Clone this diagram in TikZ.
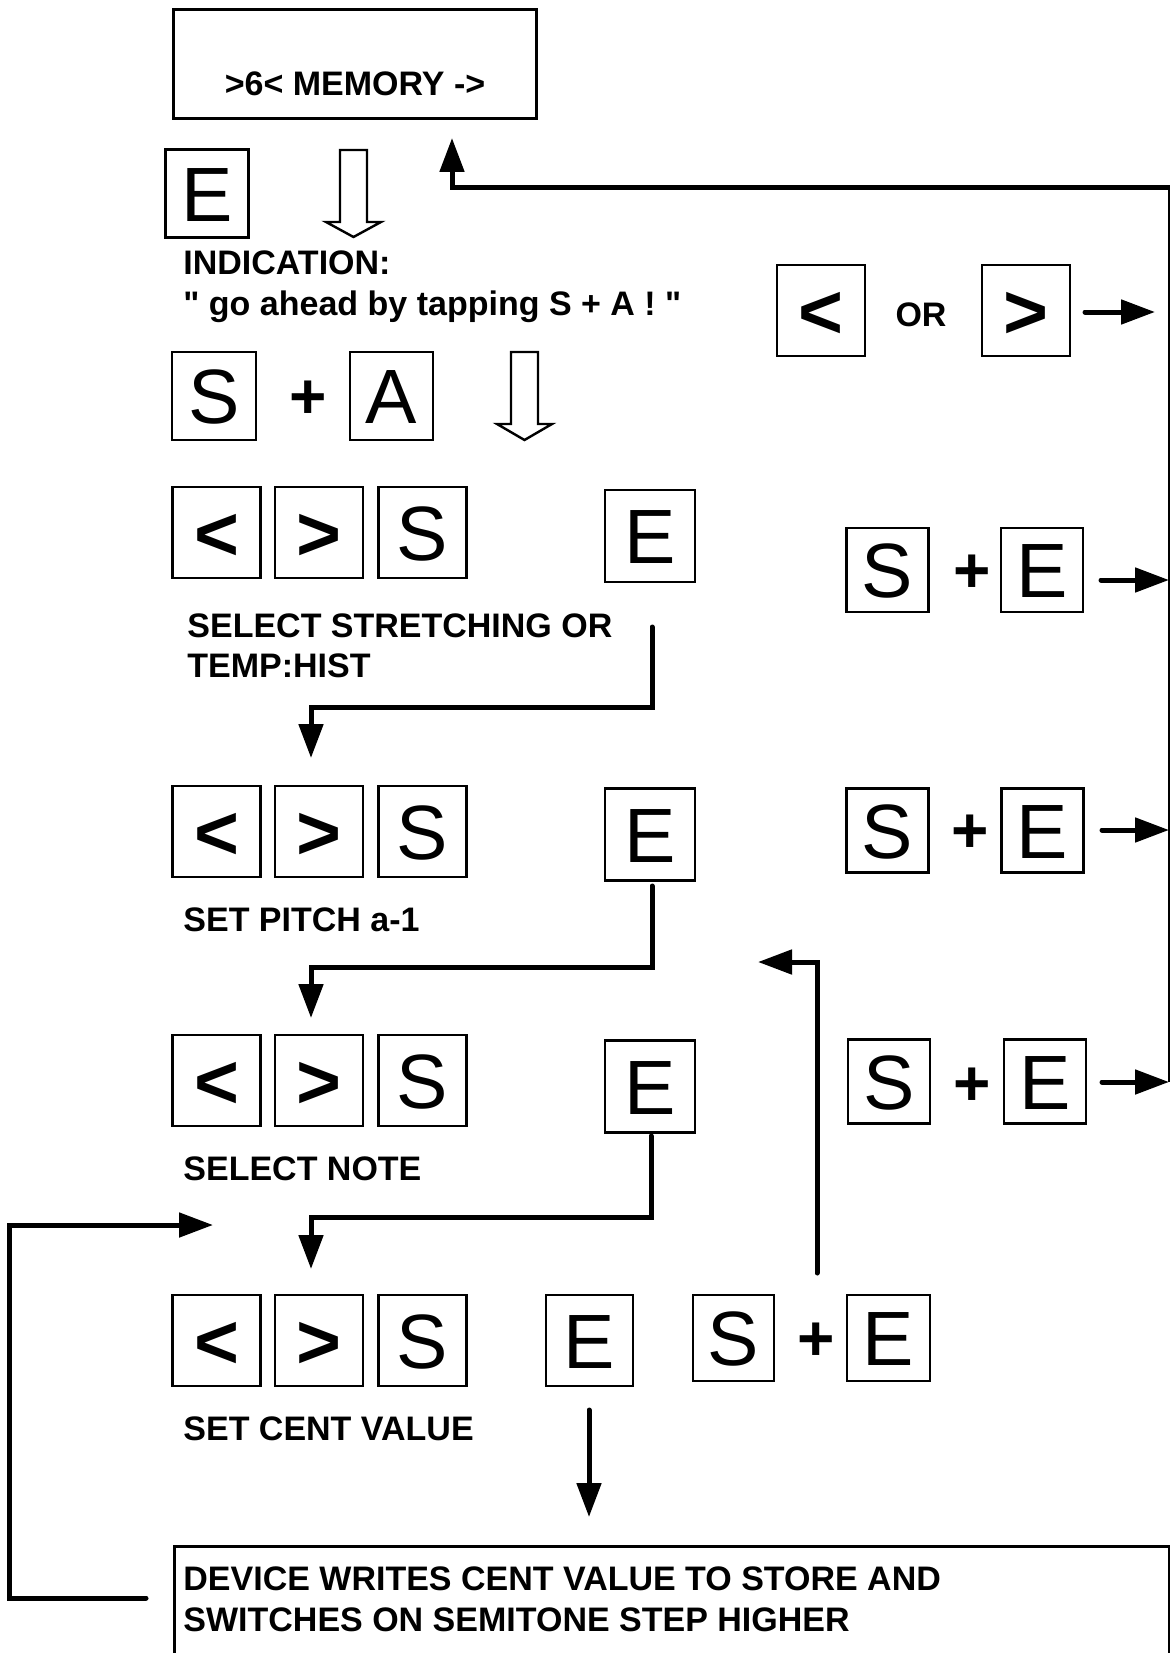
\documentclass[tikz,border=0pt]{standalone}
\usepackage{fontspec}
\setmainfont{Liberation Sans}
\newfontfamily\plainqfont{Liberation Sans}
\newcommand{\straightq}{{\plainqfont\bfseries"}}
\usetikzlibrary{arrows.meta}
\begin{document}
\begin{tikzpicture}[x=0.5pt,y=-0.5pt,
  keybox/.style={draw, line width=1.35pt, inner sep=0pt, minimum width=44pt, minimum height=45.5pt, text height=27.6pt, text depth=0pt, font=\fontsize{38.5pt}{40pt}\selectfont},
  chev/.style={keybox, font=\bfseries\fontsize{38.5pt}{40pt}\selectfont},
  smallkey/.style={keybox, minimum width=41.5pt, minimum height=44pt},
  rkey/.style={keybox, minimum width=41pt, minimum height=42pt},
  lbl/.style={anchor=base west, inner sep=0pt, font=\bfseries\fontsize{17pt}{20.5pt}\selectfont},
  plussign/.style={inner sep=0pt, font=\bfseries\fontsize{32pt}{34pt}\selectfont},
  conn/.style={line width=2.5pt, line cap=round, -{Triangle[length=17pt,width=12pt]}},
  hollow/.style={draw, line width=1.2pt, line join=miter},
  boxframe/.style={draw, line width=1.5pt, inner sep=0pt, anchor=north west},
]
\useasboundingbox (0,0) rectangle (1170,1653);

% top display
\node[boxframe, minimum width=181.5pt, minimum height=54.5pt, text height=43pt, text depth=11.5pt,
      font=\bfseries\fontsize{17pt}{20pt}\selectfont] (mem) at (172,8) {>6< MEMORY ->};

% E key and hollow arrow
\node[smallkey] (kE0) at (207,193.5) {E};
\draw[hollow] (340,150) -- (367,150) -- (367,222) -- (381,222) -- (353.5,237) -- (326,222) -- (340,222) -- cycle;

\node[lbl] (ind1) at (183,274) {INDICATION:};
\node[lbl] (ind2) at (183,315) {\straightq{} go ahead by tapping S + A ! \straightq};

% S + A
\node[smallkey, minimum width=42pt] (kS0) at (214,396) {S};
\node[plussign] (p0) at (308,400) {+};
\node[smallkey] (kA0) at (391.5,396) {A};
\draw[hollow] (511,352) -- (538,352) -- (538,424) -- (552,424) -- (524.5,440) -- (497,424) -- (511,424) -- cycle;

% row 1
\node[chev] (kL1) at (216.5,532.5) {<};
\node[chev] (kR1) at (319,532.5) {>};
\node[keybox] (kS1) at (422.5,532.5) {S};
\node[keybox, minimum width=45pt, minimum height=46pt] (kE1) at (650,536) {E};
\node[lbl] (t1a) at (187,637) {SELECT STRETCHING OR};
\node[lbl] (t1b) at (187,677) {TEMP:HIST};

% row 2
\node[chev] (kL2) at (216.5,831.5) {<};
\node[chev] (kR2) at (319,831.5) {>};
\node[keybox] (kS2) at (422.5,831.5) {S};
\node[keybox, minimum width=45pt, minimum height=46pt] (kE2) at (650,834.5) {E};
\node[lbl] (t2) at (183,931) {SET PITCH a-1};

% row 3
\node[chev] (kL3) at (216.5,1080.5) {<};
\node[chev] (kR3) at (319,1080.5) {>};
\node[keybox] (kS3) at (422.5,1080.5) {S};
\node[keybox, minimum width=45pt, minimum height=46pt] (kE3) at (650,1086.5) {E};
\node[lbl] (t3) at (183,1180) {SELECT NOTE};

% row 4
\node[chev] (kL4) at (216.5,1340.5) {<};
\node[chev] (kR4) at (319,1340.5) {>};
\node[keybox] (kS4) at (422.5,1340.5) {S};
\node[keybox, minimum width=43.5pt] (kE4) at (589.5,1340.5) {E};
\node[rkey, minimum width=40.5pt, minimum height=43pt] (kS4b) at (733.5,1338) {S};
\node[plussign] (p4) at (816,1342) {+};
\node[rkey, minimum width=41.5pt, minimum height=43pt] (kE4b) at (888.5,1338) {E};
\node[lbl] (t4) at (183,1440) {SET CENT VALUE};

% bottom box
\node[boxframe, minimum width=497.5pt, minimum height=54pt] (dev) at (173,1545) {};
\node[lbl] (dev1) at (183,1590) {DEVICE WRITES CENT VALUE TO STORE AND};
\node[lbl] (dev2) at (183,1631) {SWITCHES ON SEMITONE STEP HIGHER};

% right column
\node[chev] (kLr) at (821,310.5) {<};
\node[lbl, anchor=center] (orl) at (921,315) {OR};
\node[chev] (kRr) at (1026,310.5) {>};

\node[rkey] (kSa) at (887.5,570) {S};
\node[plussign] (pa) at (972,574) {+};
\node[rkey] (kEa) at (1042,570) {E};

\node[rkey] (kSb) at (887.5,830.5) {S};
\node[plussign] (pb) at (970,834) {+};
\node[rkey] (kEb) at (1042.5,830.5) {E};

\node[rkey] (kSc) at (889,1081.5) {S};
\node[plussign] (pc) at (972,1087) {+};
\node[rkey] (kEc) at (1045,1081.5) {E};

% coordinates for connector ends
\coordinate (c1s) at (652,627);   \coordinate (c1t) at (311,758);
\coordinate (c2s) at (652,886);   \coordinate (c2t) at (311,1018);
\coordinate (c3s) at (651,1136);  \coordinate (c3t) at (311,1269);
\coordinate (c4s) at (589,1410);  \coordinate (c4t) at (589,1517);
\coordinate (ls) at (146,1598);   \coordinate (lt) at (213,1225);
\coordinate (us) at (817,1273);   \coordinate (ut) at (758,962);
\coordinate (rtop) at (1169,188); \coordinate (rbot) at (1169,1082);
\coordinate (mt) at (452,138);
\coordinate (a0s) at (1085,312);  \coordinate (a0t) at (1155,312);
\coordinate (a1s) at (1101,580);  \coordinate (a1t) at (1169,580);
\coordinate (a2s) at (1102,830);  \coordinate (a2t) at (1169,830);
\coordinate (a3s) at (1102,1082); \coordinate (a3t) at (1169,1082);

% connectors
\draw[conn] (c1s) -- ++(0,80) -| (c1t);
\draw[conn] (c2s) -- ++(0,81) -| (c2t);
\draw[conn] (c3s) -- ++(0,81) -| (c3t);
\draw[conn] (c4s) -- (c4t);
\draw[conn] (ls) -- (9,1598) -- (9,1225) -- (lt);
\draw[conn] (us) |- (ut);
\draw[line width=1pt] (rtop) -- (rbot);
\draw[conn, line cap=butt] (rtop) ++(1,0) -| (mt);
\draw[conn] (a0s) -- (a0t);
\draw[conn] (a1s) -- (a1t);
\draw[conn] (a2s) -- (a2t);
\draw[conn] (a3s) -- (a3t);
\end{tikzpicture}
\end{document}
